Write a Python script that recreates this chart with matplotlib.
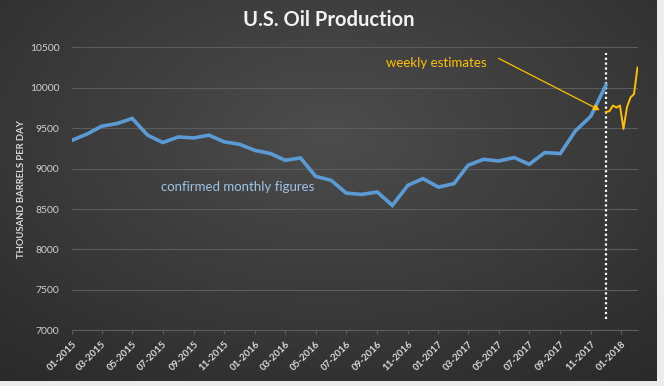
import numpy as np
import pandas as pd
import matplotlib
matplotlib.use("Agg")
import matplotlib.pyplot as plt
import matplotlib.dates as mdates

plt.rcParams['font.family'] = ['Lato', 'DejaVu Sans']

# monthly EIA production (thousand barrels per day), 01-2015 .. 12-2017
month_dates = pd.date_range("2015-01-01", "2017-12-01", freq="MS")
monthly = [9350, 9430, 9524, 9557, 9620, 9413, 9322, 9391, 9379, 9413, 9330, 9301,
           9225, 9186, 9103, 9131, 8904, 8855, 8697, 8681, 8710, 8545, 8793, 8876,
           8771, 8814, 9041, 9115, 9094, 9136, 9053, 9198, 9186, 9466, 9648, 10033]

# weekly estimates
week_dates = pd.date_range("2017-12-01", periods=10, freq="7D")
weekly = [9700, 9710, 9780, 9755, 9780, 9490, 9760, 9880, 9920, 10250]

yticks = [7000, 7500, 8000, 8500, 9000, 9500, 10000, 10500]
split_date = pd.Timestamp("2017-12-01")

W, H = 664, 386
fig = plt.figure(figsize=(W / 100, H / 100), dpi=100, facecolor="#ededed")

# dark radial background
bg = fig.add_axes([0, 5 / H, 657 / W, 381 / H])
yy, xx = np.mgrid[0:1:200j, 0:1:300j]
r = np.sqrt(((xx - 0.5) / 0.75) ** 2 + ((yy - 0.35) / 0.8) ** 2)
shade = np.clip(0.30 - 0.13 * r, 0.15, 0.30)
bg.imshow(np.dstack([shade] * 3), aspect="auto", extent=[0, 1, 0, 1])
bg.axis("off")

ax = fig.add_axes([72 / W, 1 - 330.3 / H, 566 / W, 283 / H])
ax.set_facecolor("none")

ax.plot(month_dates, monthly, color="#5b9bd5", lw=2.6, solid_joinstyle="miter", zorder=3)
ax.plot(week_dates, weekly, color="#ffc000", lw=1.4, zorder=3)
ax.vlines(split_date, 7140, 10430, colors="white", linestyles=(0, (1, 1.2)), lw=1.6, zorder=2)

ax.set_ylim(7000, 10500)
ax.set_xlim(pd.Timestamp("2015-01-01"), pd.Timestamp("2018-02-03"))
ax.set_yticks(yticks)
ax.grid(axis="y", color="#5c5c5c", lw=0.8)
ax.set_axisbelow(True)
for s in ["top", "right", "left"]:
    ax.spines[s].set_visible(False)
ax.spines["bottom"].set_color("#5c5c5c")

ax.xaxis.set_major_locator(mdates.MonthLocator(bymonth=[1, 3, 5, 7, 9, 11]))
ax.xaxis.set_major_formatter(mdates.DateFormatter("%m-%Y"))
ax.tick_params(axis="x", colors="#5c5c5c", length=3, labelcolor="#d9d9d9", labelsize=7)
ax.tick_params(axis="y", length=0, labelcolor="#d0d0d0", labelsize=7.5, pad=9)
for lab in ax.get_xticklabels():
    lab.set_rotation(45)
    lab.set_ha("right")
    lab.set_rotation_mode("anchor")
    lab.set_fontweight("bold")

ax.set_ylabel("THOUSAND BARRELS PER DAY", color="#d9d9d9", fontsize=6.8,
              fontweight="bold", labelpad=3)

fig.text(329 / W, 1 - 20 / H, "U.S. Oil Production", color="#f2f2f2", fontsize=14.5,
         fontweight="bold", ha="center", va="center")

ax.text(pd.Timestamp("2015-11-28"), 8768, "confirmed monthly figures", color="#9dc3e6",
        fontsize=9.5, ha="center", va="center")
ax.text(pd.Timestamp("2016-12-28"), 10305, "weekly estimates", color="#ffc000",
        fontsize=9.5, ha="center", va="center")
ax.annotate("", xy=(pd.Timestamp("2017-11-19"), 9722), xytext=(pd.Timestamp("2017-05-01"), 10363),
            arrowprops=dict(arrowstyle="-|>", color="#ffc000", lw=0.9,
                            mutation_scale=9, shrinkA=0, shrinkB=0))

fig.savefig("out.png", dpi=100, facecolor=fig.get_facecolor())
